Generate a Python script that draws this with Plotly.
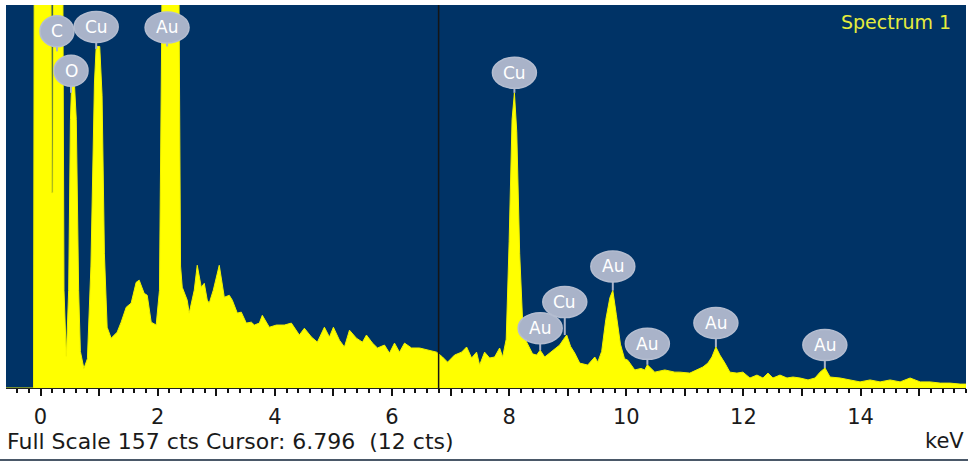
import plotly.graph_objects as go

# ---------------- data ----------------
energy_kev = [-0.59, -0.12, -0.10, 0.16, 0.19, 0.21, 0.23, 0.36, 0.40, 0.44, 0.48, 0.51, 0.53, 0.58,
              0.61, 0.65, 0.68, 0.74, 0.80, 0.86, 0.92, 0.95, 1.01, 1.05, 1.09, 1.137, 1.205, 1.308,
              1.376, 1.462, 1.547, 1.632, 1.684, 1.769, 1.821, 1.889, 1.974, 2.03, 2.07, 2.10, 2.33,
              2.36, 2.39, 2.419, 2.504, 2.538, 2.624, 2.675, 2.744, 2.795, 2.846, 2.880, 2.949, 3.051,
              3.137, 3.222, 3.274, 3.359, 3.427, 3.513, 3.598, 3.650, 3.735, 3.786, 3.906, 4.026,
              4.162, 4.282, 4.419, 4.504, 4.624, 4.726, 4.846, 4.932, 5.0, 5.103, 5.188, 5.274, 5.393,
              5.496, 5.564, 5.667, 5.752, 5.872, 5.957, 6.043, 6.128, 6.214, 6.333, 6.470, 6.641,
              6.761, 6.863, 6.949, 7.068, 7.188, 7.274, 7.359, 7.444, 7.496, 7.581, 7.667, 7.752,
              7.838, 7.889, 7.95, 8.00, 8.05, 8.09, 8.13, 8.18, 8.24, 8.30, 8.40, 8.47, 8.53, 8.607,
              8.744, 8.863, 8.93, 8.983, 9.05, 9.120, 9.205, 9.342, 9.462, 9.513, 9.58, 9.65, 9.72,
              9.77, 9.83, 9.90, 9.97, 10.026, 10.145, 10.25, 10.316, 10.36, 10.487, 10.658, 10.829,
              10.915, 11.085, 11.205, 11.308, 11.393, 11.462, 11.530, 11.598, 11.684, 11.769, 11.889,
              11.991, 12.111, 12.231, 12.333, 12.419, 12.504, 12.624, 12.744, 12.846, 12.966, 13.103,
              13.222, 13.308, 13.393, 13.479, 13.650, 13.821, 13.991, 14.162, 14.333, 14.504, 14.675,
              14.846, 15.017, 15.188, 15.359, 15.530, 15.701, 15.85]
counts = [0, 0, 300, 300, 80, 80, 300, 300, 40, 13, 40, 110, 124, 124,
          110, 40, 15, 8, 12, 50, 125, 140, 140, 120, 55, 24.9, 20.4, 22.9,
          27.0, 33.1, 34.8, 43.3, 44.2, 38.8, 38.0, 27.0, 25.8, 40, 150, 300, 300,
          150, 50, 41.3, 36.0, 30.7, 40.1, 50.3, 41.3, 42.9, 36.0, 34.8, 40.1, 50.3,
          37.2, 38.0, 36.0, 30.7, 31.1, 26.6, 27.0, 25.8, 26.6, 29.8, 24.9, 25.8,
          25.8, 26.6, 21.7, 24.5, 20.9, 18.8, 24.9, 20.9, 24.9, 19.6, 16.8, 23.7, 20.4,
          18.8, 21.7, 18.4, 16.4, 17.6, 14.3, 18.4, 14.7, 18.4, 16.4, 16.4, 15.5,
          14.7, 12.7, 10.6, 13.5, 14.7, 16.8, 12.3, 14.7, 9.4, 14.7, 12.3, 12.7,
          16.4, 12.7, 20, 60, 110, 121, 105, 55, 22, 18.8, 14, 13.5, 15.5, 12.7,
          15.5, 17.6, 20, 21.7, 17, 14.3, 10.2, 9.4, 12.7, 10.6, 15, 28, 37,
          40, 30, 18, 12, 11.4, 7.4, 8, 7.4, 9.5, 6.5, 7.4, 6.5,
          6.5, 6.1, 7.4, 8.6, 10.2, 12.7, 16.8, 13.5, 10.2, 6.5, 6.1,
          6.5, 4.1, 5.3, 4.1, 6.1, 4.1, 5.3, 4.1, 4.5, 4.1, 3.3,
          4.1, 6.5, 8.2, 4.5, 4.1, 3.3, 2.5, 3.3, 2.5, 3.3, 2.5,
          4.1, 2.5, 2.5, 2.0, 2.0, 1.6, 1.6]

full_scale_cts = 157
cursor_kev = 6.796
cursor_cts = 12
spectrum_name = "Spectrum 1"

label_text = ["C", "Cu", "O", "Au", "Cu", "Au", "Cu", "Au", "Au", "Au", "Au"]
label_kev = [0.28, 0.95, 0.52, 2.16, 8.09, 8.53, 8.95, 9.77, 10.36, 11.53, 13.39]
label_tip_cts = [138, 139, 121, 140, 121, 15.5, 21.7, 40, 9.5, 16.8, 8.2]

tick_kev = [0, 2, 4, 6, 8, 10, 12, 14]
tick_labels = ["0", "2", "4", "6", "8", "10", "12", "14"]

# ---------------- styles ----------------
NAVY = "#003366"
YELLOW = "#ffff00"
BUBBLE = "#a9b3c9"
bubble_offset_px = [20, 22, 22, 19, 20, 22, 33, 24, 21, 24, 23]
FONT = "DejaVu Sans"

fig = go.Figure()
fig.add_trace(go.Scatter(
    x=energy_kev, y=counts, mode="lines", fill="tozeroy",
    line=dict(color="#f2f200", width=1), fillcolor=YELLOW,
    hoverinfo="skip", showlegend=False))

shapes = []
annotations = []

# cursor line
shapes.append(dict(type="line", xref="x", yref="paper", x0=cursor_kev, x1=cursor_kev,
                   y0=0, y1=1, line=dict(color="#151515", width=1.5), layer="above"))

# peak label bubbles
for txt, e, tip, off in zip(label_text, label_kev, label_tip_cts, bubble_offset_px):
    w = 22 if len(txt) > 1 else 17
    h = 15.5
    shapes.append(dict(type="line", xref="x", yref="y", x0=e, x1=e,
                       ysizemode="pixel", yanchor=tip, y0=0, y1=off,
                       line=dict(color=BUBBLE, width=2), layer="above"))
    shapes.append(dict(type="circle", xref="x", yref="y",
                       xsizemode="pixel", ysizemode="pixel",
                       xanchor=e, yanchor=tip, x0=-w, x1=w, y0=off - h, y1=off + h,
                       fillcolor=BUBBLE, line=dict(color="#b4bdd0", width=1.5), layer="above"))
    annotations.append(dict(x=e, y=tip, xref="x", yref="y", text=txt, showarrow=False,
                            yshift=off, font=dict(family=FONT, size=17, color="white")))

# spectrum name
annotations.append(dict(x=1, y=1, xref="paper", yref="paper", text=spectrum_name,
                        showarrow=False, xanchor="right", yanchor="middle",
                        xshift=-13, yshift=-17,
                        font=dict(family=FONT, size=19, color="#e6ec3c")))

# status line
annotations.append(dict(x=0, y=0, xref="paper", yref="paper",
                        text=f"Full Scale {full_scale_cts} cts Cursor: {cursor_kev:.3f}&nbsp;&nbsp;({cursor_cts} cts)",
                        showarrow=False, xanchor="left", yanchor="middle",
                        xshift=-1, yshift=-53,
                        font=dict(family=FONT, size=22, color="#1a1a1a")))
annotations.append(dict(x=1, y=0, xref="paper", yref="paper", text="keV",
                        showarrow=False, xanchor="right", yanchor="middle",
                        xshift=0, yshift=-53,
                        font=dict(family=FONT, size=21, color="#1a1a1a")))

# bottom border line
shapes.append(dict(type="line", xref="paper", yref="paper",
                   xsizemode="pixel", ysizemode="pixel", xanchor=0, yanchor=0,
                   x0=-6, x1=962, y0=-72, y1=-72,
                   line=dict(color="#4a5868", width=2)))

fig.update_layout(
    width=968, height=464,
    margin=dict(l=6, r=2, t=5, b=76),
    paper_bgcolor="white", plot_bgcolor=NAVY,
    showlegend=False,
    shapes=shapes, annotations=annotations,
    xaxis=dict(range=[-0.59, 15.8], showgrid=False, zeroline=False,
               tickmode="array", tickvals=list(range(0, 16)),
               ticktext=[tick_labels[tick_kev.index(v)] if v in tick_kev else "" for v in range(0, 16)],
               ticks="outside", ticklen=7, tickwidth=2, tickcolor="#111",
               minor=dict(tickmode="linear", tick0=0, dtick=0.2, ticks="outside",
                          ticklen=4, tickwidth=1.5, tickcolor="#111"),
               showline=True, linecolor="#222", linewidth=1,
               ticklabelstandoff=3,
               tickfont=dict(family=FONT, size=21, color="#1a1a1a")),
    yaxis=dict(range=[0, full_scale_cts], visible=False, fixedrange=True),
)

fig.write_html("out.html")
